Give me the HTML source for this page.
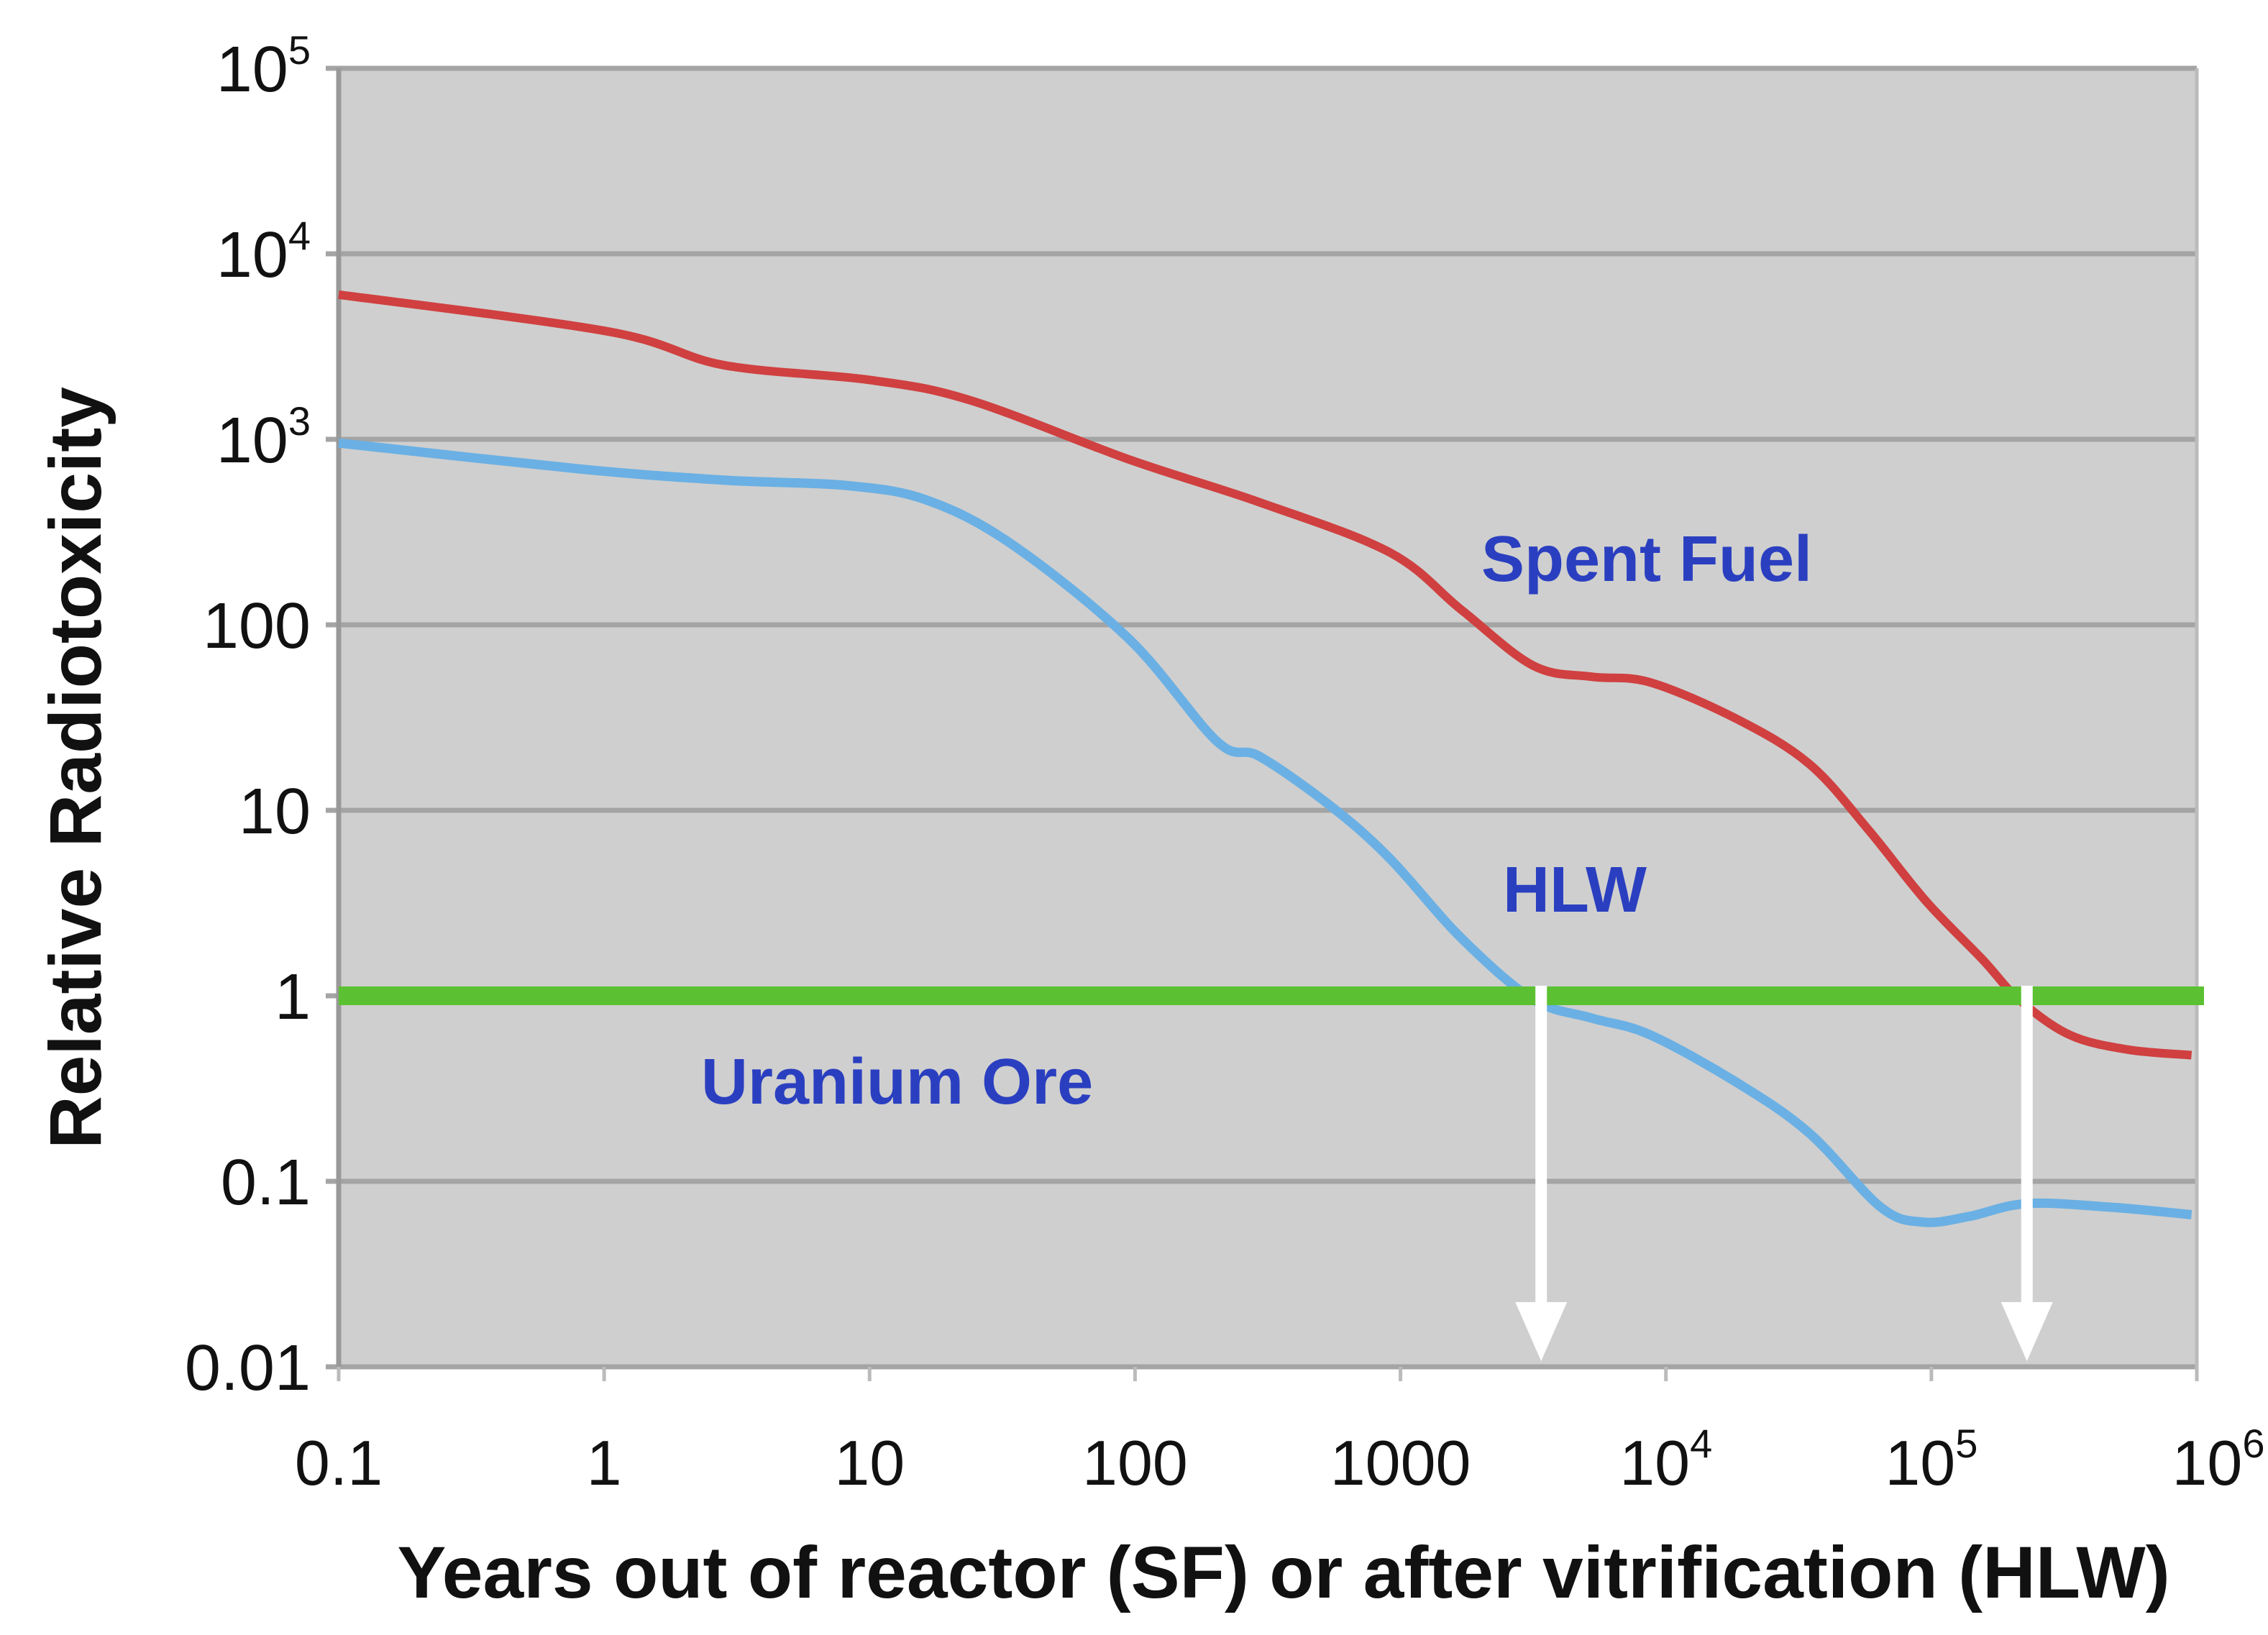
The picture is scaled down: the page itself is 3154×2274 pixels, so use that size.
<!DOCTYPE html>
<html><head><meta charset="utf-8"><style>
html,body{margin:0;padding:0;background:#fff;width:3154px;height:2274px;overflow:hidden}
text{font-family:"Liberation Sans",sans-serif}
</style></head><body>
<svg id="chart" width="3154" height="2274" viewBox="0 0 3154 2274" xmlns="http://www.w3.org/2000/svg">
<rect x="471" y="95" width="2584" height="1806" fill="#cfcfcf"/>
<g id="grid"></g><g id="series"></g><g id="labels"></g>
<text transform="translate(140,1068) rotate(-90)" text-anchor="middle" font-size="102" font-weight="bold" fill="#111">Relative Radiotoxicity</text>
<text x="1785" y="2222" text-anchor="middle" font-size="102" font-weight="bold" fill="#111">Years out of reactor (SF) or after vitrification (HLW)</text>
<text x="2060" y="808" font-size="90" font-weight="bold" fill="#2a3fc0">Spent Fuel</text>
<text x="2090" y="1268" font-size="90" font-weight="bold" fill="#2a3fc0">HLW</text>
<text x="975" y="1535" font-size="90" font-weight="bold" fill="#2a3fc0">Uranium Ore</text>
</svg>
<script>
const yTicks=[-2,-1,0,1,2,3,4,5];
const yLabels=["0.01","0.1","1","10","100","10^3","10^4","10^5"];
const xTicks=[-1,0,1,2,3,4,5,6];
const xLabels=["0.1","1","10","100","1000","10^4","10^5","10^6"];
const sfX=[-1,0.02,0.45,1.0,1.38,1.98,2.47,2.96,3.23,3.5,3.72,3.94,4.27,4.54,4.76,4.98,5.19,5.33,5.52,5.74,5.98];
const sfY=[3.78,3.58,3.40,3.32,3.21,2.89,2.66,2.39,2.08,1.78,1.72,1.69,1.49,1.25,0.90,0.51,0.20,-0.02,-0.21,-0.29,-0.32];
const hlwX=[-1,-0.09,0.45,0.92,1.22,1.54,1.98,2.31,2.47,2.74,2.96,3.23,3.5,3.72,3.94,4.27,4.54,4.81,4.97,5.14,5.36,5.68,5.98];
const hlwY=[2.98,2.84,2.78,2.75,2.67,2.43,1.92,1.37,1.29,1.02,0.74,0.31,-0.02,-0.12,-0.21,-0.47,-0.74,-1.14,-1.22,-1.19,-1.12,-1.14,-1.18];
const oreLevel=0;
const arrowX=[3.53,5.36];
const NS="http://www.w3.org/2000/svg";
const X0=471,X1=3055,Y0=1901,Y1=95;
const sx=v=>X0+(v+1)/7*(X1-X0);
const sy=v=>Y0-(v+2)/7*(Y0-Y1);
function mk(t,a,p){const e=document.createElementNS(NS,t);for(const k in a)e.setAttribute(k,a[k]);p.appendChild(e);return e;}
const grid=document.getElementById('grid'),ser=document.getElementById('series'),lab=document.getElementById('labels');
yTicks.forEach((t,i)=>{
 const l=mk('line',{x1:X0-18,x2:X1,y1:sy(t),y2:sy(t),stroke:'#a4a4a4','stroke-width':7},grid);
 
 
 const tx=mk('text',{x:432,y:sy(t)+32,'text-anchor':'end','font-size':90,fill:'#111'},lab);
 
 
 const s=yLabels[i];
 if(s.includes('^')){const [b,e]=s.split('^');tx.textContent=b;const ts=mk('tspan',{dy:-38,'font-size':56},tx);ts.textContent=e;}
 else tx.textContent=s;
});
const ax=mk('line',{x1:X0,x2:X0,y1:Y1,y2:Y0,stroke:'#999','stroke-width':7},grid);


const rx=mk('line',{x1:X1,x2:X1,y1:Y1,y2:Y0+20,stroke:'#bbb','stroke-width':5},grid);


xTicks.forEach((t,i)=>{
 const tk=mk('line',{x1:sx(t),x2:sx(t),y1:Y0,y2:Y0+20,stroke:'#bbb','stroke-width':5},grid);
 
 
 const tx=mk('text',{x:sx(t)+(i==7?30:0),y:2065,'text-anchor':'middle','font-size':88,fill:'#111'},lab);
 
 
 const s=xLabels[i];
 if(s.includes('^')){const [b,e]=s.split('^');tx.textContent=b;const ts=mk('tspan',{dy:-38,'font-size':56},tx);ts.textContent=e;}
 else tx.textContent=s;
});
function path(xs,ys){
 const p=xs.map((x,i)=>[sx(x),sy(ys[i])]);let d='M'+p[0][0]+','+p[0][1];
 for(let i=0;i<p.length-1;i++){const a=p[i-1]||p[i],b=p[i],c=p[i+1],e=p[i+2]||c;
  d+=' C'+(b[0]+(c[0]-a[0])/6)+','+(b[1]+(c[1]-a[1])/6)+' '+(c[0]-(e[0]-b[0])/6)+','+(c[1]-(e[1]-b[1])/6)+' '+c[0]+','+c[1];}
 return d;}
const hp=mk('path',{d:path(hlwX,hlwY),fill:'none',stroke:'#6ab0e4','stroke-width':13,'stroke-linejoin':'round'},ser);


const rp=mk('path',{d:path(sfX,sfY),fill:'none',stroke:'#d04040','stroke-width':12,'stroke-linejoin':'round'},ser);


const gl=mk('line',{x1:X0,x2:X1+10,y1:sy(oreLevel),y2:sy(oreLevel),stroke:'#5cc132','stroke-width':26},ser);


arrowX.forEach(a=>{
 const x=sx(a);
 const g=mk('g',{},ser);
 
 
 mk('line',{x1:x,x2:x,y1:sy(oreLevel)-14,y2:Y0-60,stroke:'#fff','stroke-width':16},g);
 mk('polygon',{points:(x-36)+','+(Y0-90)+' '+(x+36)+','+(Y0-90)+' '+x+','+(Y0-8),fill:'#fff'},g);
});
</script>
</body></html>
